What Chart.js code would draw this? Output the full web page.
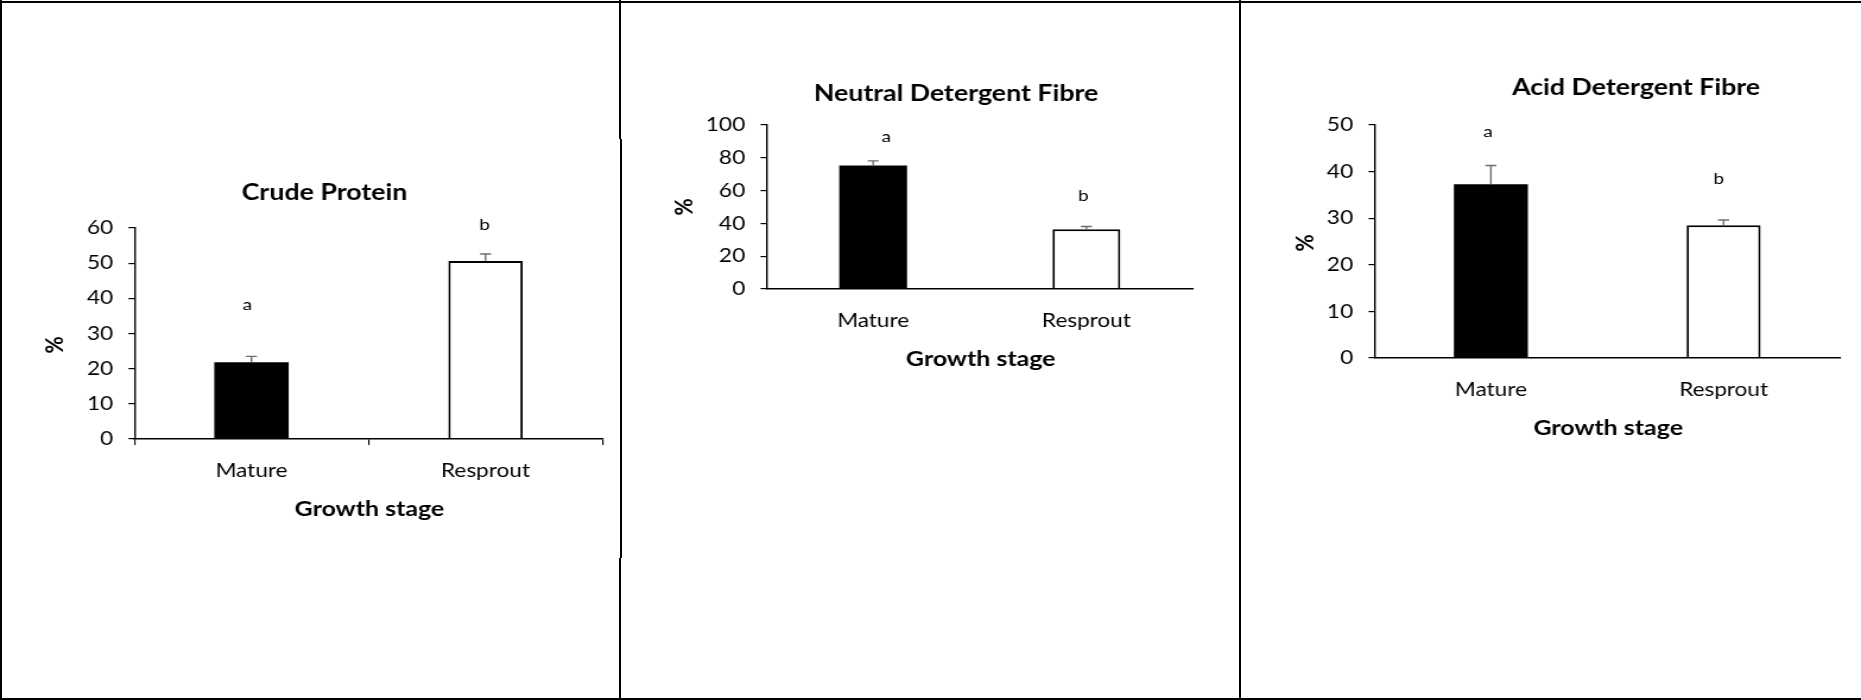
<!DOCTYPE html>
<html>
<head>
<meta charset="utf-8">
<title>Forage quality by growth stage</title>
<script src="https://cdn.jsdelivr.net/npm/chart.js@4.4.1/dist/chart.umd.min.js"></script>
<style>
  html, body { margin: 0; padding: 0; background: #fff; }
  #sheet { position: relative; width: 1861px; height: 700px; overflow: hidden; background: #fff; }
  .panel { position: absolute; top: 0; height: 700px; transform-origin: 0 0; }
  .panel canvas { display: block; }
  .rule { position: absolute; background: #000; }
</style>
</head>
<body>
<div id="sheet">
  <!-- each panel is drawn narrow and widened horizontally -->
  <div class="panel" style="left:0;width:522px;transform:scaleX(1.18774)"><canvas id="cp" width="522" height="700"></canvas></div>
  <div class="panel" style="left:620px;width:523px;transform:scaleX(1.18738)"><canvas id="ndf" width="523" height="700"></canvas></div>
  <div class="panel" style="left:1241px;width:522px;transform:scaleX(1.18774)"><canvas id="adf" width="522" height="700"></canvas></div>

  <!-- frame around the three panels -->
  <div class="rule" style="left:0;top:1px;width:1861px;height:2px"></div>
  <div class="rule" style="left:0;top:698px;width:1861px;height:2px"></div>
  <div class="rule" style="left:0;top:0;width:2px;height:700px"></div>
  <div class="rule" style="left:619px;top:0;width:2px;height:139px"></div>
  <div class="rule" style="left:620px;top:139px;width:1.5px;height:419px"></div>
  <div class="rule" style="left:619px;top:558px;width:2px;height:142px"></div>
  <div class="rule" style="left:1239px;top:0;width:2px;height:700px"></div>
</div>

<script>
// Growth stages compared in every panel
const categories = ['Mature', 'Resprout'];

// Crude protein (%), mean and standard error
const crudeProtein = [21.8, 50.6];
const crudeProteinSE = [1.7, 2.0];
const crudeProteinGroups = ['a', 'b'];

// Neutral detergent fibre (%), mean and standard error
const neutralFibre = [75.3, 36.5];
const neutralFibreSE = [2.8, 1.6];
const neutralFibreGroups = ['a', 'b'];

// Acid detergent fibre (%), mean and standard error
const acidFibre = [37.3, 28.5];
const acidFibreSE = [4.0, 1.1];
const acidFibreGroups = ['a', 'b'];

// Value axis ranges (max, step)
const crudeProteinAxis = [60, 10];
const neutralFibreAxis = [100, 20];
const acidFibreAxis = [50, 10];

const FONT = 'Lato, "Open Sans", sans-serif';

// Error bars, significance letters, panel title and axis titles
const panelText = {
  id: 'panelText',
  afterDatasetsDraw(chart, args, o) {
    const { ctx, chartArea } = chart;
    const ys = chart.scales.y;
    const meta = chart.getDatasetMeta(0);
    const values = chart.data.datasets[0].data;
    ctx.save();

    // upward error bars
    ctx.strokeStyle = '#6e6e6e';
    ctx.lineWidth = 1.4;
    meta.data.forEach((bar, i) => {
      const yBar = ys.getPixelForValue(values[i]);
      const yTop = ys.getPixelForValue(values[i] + o.errors[i]);
      ctx.beginPath();
      ctx.moveTo(bar.x, yBar);
      ctx.lineTo(bar.x, yTop);
      ctx.moveTo(bar.x - 4.6, yTop);
      ctx.lineTo(bar.x + 4.6, yTop);
      ctx.stroke();
    });

    ctx.fillStyle = '#000';
    ctx.textAlign = 'center';
    ctx.textBaseline = 'middle';

    // letters marking significant differences
    ctx.font = '16px ' + FONT;
    meta.data.forEach((bar, i) => {
      const place = o.letterPlace[i];
      ctx.fillText(o.groups[i], bar.x + place.dx, ys.getPixelForValue(place.at));
    });

    // panel title
    ctx.font = 'bold 22.5px ' + FONT;
    ctx.fillText(o.title, o.titleX, o.titleY);

    // category axis title
    ctx.font = 'bold 21px ' + FONT;
    ctx.fillText('Growth stage', (chartArea.left + chartArea.right) / 2 + 0.8, chartArea.bottom + 70.5);

    // value axis title
    ctx.translate(o.unitX, o.unitY);
    ctx.rotate(-Math.PI / 2);
    ctx.fillText('%', 0, 0);
    ctx.restore();
  }
};

function makePanel(id, values, errors, groups, axis, layout) {
  return new Chart(document.getElementById(id), {
    type: 'bar',
    data: {
      labels: categories,
      datasets: [{
        data: values,
        backgroundColor: ['#000000', '#ffffff'],
        borderColor: '#000000',
        borderWidth: [0, 2],
        barPercentage: 0.318,
        categoryPercentage: 1
      }]
    },
    options: {
      responsive: false,
      animation: false,
      devicePixelRatio: 1,
      layout: { padding: layout.padding },
      plugins: {
        legend: { display: false },
        tooltip: { enabled: false },
        panelText: {
          errors: errors,
          groups: groups,
          letterPlace: layout.letters,
          title: layout.title,
          titleX: layout.titleX,
          titleY: layout.titleY,
          unitX: layout.unitX,
          unitY: layout.unitY
        }
      },
      scales: {
        x: {
          afterFit(s) { s.height = 100; },
          grid: {
            drawOnChartArea: false,
            drawTicks: true,
            tickLength: 6,
            color: '#000',
            tickColor: layout.catTicks ? '#000' : 'rgba(0,0,0,0)',
            lineWidth: 1.1
          },
          border: { display: true, color: '#000', width: 1.5, z: 1 },
          ticks: { color: '#000', font: { family: FONT, size: 19 }, padding: 14 }
        },
        y: {
          min: 0,
          max: axis[0],
          afterFit(s) { s.width = 80; },
          grid: {
            drawOnChartArea: false,
            drawTicks: true,
            tickLength: 5,
            color: '#000',
            lineWidth: 1.2
          },
          border: { display: true, color: '#000', width: 1.4, z: 1 },
          ticks: { stepSize: axis[1], color: '#000', font: { family: FONT, size: 19 }, padding: 13 }
        }
      }
    },
    plugins: [panelText]
  });
}

makePanel('cp', crudeProtein, crudeProteinSE, crudeProteinGroups, crudeProteinAxis, {
  padding: { left: 33.2, right: 14.7, top: 228, bottom: 161 },
  catTicks: true,
  title: 'Crude Protein', titleX: 273.2, titleY: 192.5,
  unitX: 46.7, unitY: 345,
  letters: [{ at: 38.2, dx: -3.4 }, { at: 61.0, dx: -0.8 }]
});

makePanel('ndf', neutralFibre, neutralFibreSE, neutralFibreGroups, neutralFibreAxis, {
  padding: { left: 43.4, right: 40.4, top: 125, bottom: 311 },
  catTicks: false,
  title: 'Neutral Detergent Fibre', titleX: 283, titleY: 94,
  unitX: 54.7, unitY: 207,
  letters: [{ at: 92.7, dx: 11 }, { at: 56.9, dx: -2.5 }]
});

makePanel('adf', acidFibre, acidFibreSE, acidFibreGroups, acidFibreAxis, {
  padding: { left: 32.4, right: 17.7, top: 125, bottom: 242 },
  catTicks: false,
  title: 'Acid Detergent Fibre', titleX: 332.6, titleY: 87.5,
  unitX: 53.9, unitY: 243,
  letters: [{ at: 48.5, dx: -2.5 }, { at: 38.5, dx: -4.2 }]
});
</script>
</body>
</html>
